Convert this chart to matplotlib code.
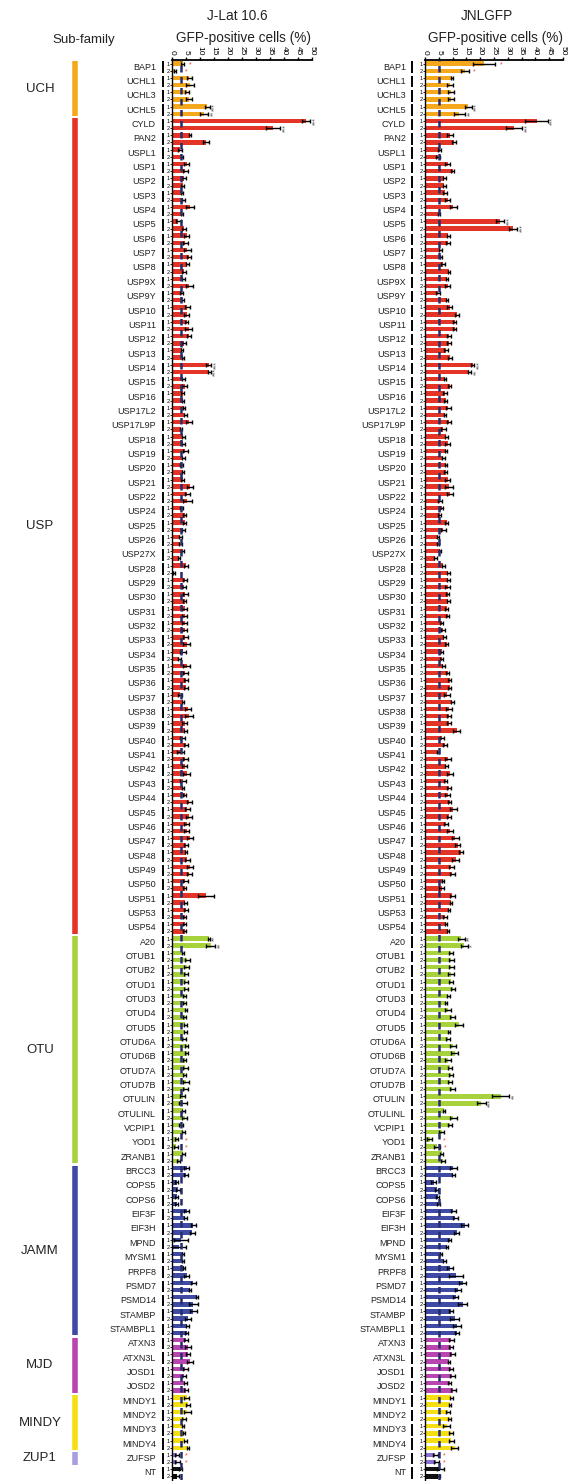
import matplotlib
matplotlib.use("Agg")
import matplotlib.pyplot as plt
from matplotlib.transforms import blended_transform_factory
import numpy as np

plt.rcParams["font.family"] = ["Liberation Sans", "DejaVu Sans"]

# ---- data -------------------------------------------------------------
subfamilies = ["UCH", "USP", "OTU", "JAMM", "MJD", "MINDY", "ZUP1", None]
genes_by_family = [
    ["BAP1", "UCHL1", "UCHL3", "UCHL5"],
    ["CYLD", "PAN2", "USPL1", "USP1", "USP2", "USP3", "USP4", "USP5", "USP6",
     "USP7", "USP8", "USP9X", "USP9Y", "USP10", "USP11", "USP12", "USP13",
     "USP14", "USP15", "USP16", "USP17L2", "USP17L9P", "USP18", "USP19",
     "USP20", "USP21", "USP22", "USP24", "USP25", "USP26", "USP27X", "USP28",
     "USP29", "USP30", "USP31", "USP32", "USP33", "USP34", "USP35", "USP36",
     "USP37", "USP38", "USP39", "USP40", "USP41", "USP42", "USP43", "USP44",
     "USP45", "USP46", "USP47", "USP48", "USP49", "USP50", "USP51", "USP53",
     "USP54"],
    ["A20", "OTUB1", "OTUB2", "OTUD1", "OTUD3", "OTUD4", "OTUD5", "OTUD6A",
     "OTUD6B", "OTUD7A", "OTUD7B", "OTULIN", "OTULINL", "VCPIP1", "YOD1",
     "ZRANB1"],
    ["BRCC3", "COPS5", "COPS6", "EIF3F", "EIF3H", "MPND", "MYSM1", "PRPF8",
     "PSMD7", "PSMD14", "STAMBP", "STAMBPL1"],
    ["ATXN3", "ATXN3L", "JOSD1", "JOSD2"],
    ["MINDY1", "MINDY2", "MINDY3", "MINDY4"],
    ["ZUFSP"],
    ["NT"],
]

# J-Lat 10.6, (sgRNA 1, sgRNA 2) per gene
jlat_mean = [
    (3.8, 1.0), (6.2, 6.4), (5.5, 6.0), (12.6, 11.4),
    (47.9, 36.2), (6.4, 12.1), (2.9, 3.6), (5.2, 4.8), (4.3, 3.8), (3.6, 4.0),
    (6.4, 3.6), (2.3, 4.3), (5.2, 4.8), (5.5, 6.0), (5.5, 4.3), (4.0, 6.2),
    (3.5, 3.8), (5.5, 5.2), (5.2, 6.0), (6.0, 4.3), (3.6, 4.0), (13.1, 13.3),
    (4.0, 4.5), (3.8, 3.8), (4.3, 4.8), (6.0, 3.1), (4.0, 4.0), (4.8, 4.0),
    (3.3, 3.8), (3.8, 6.4), (5.5, 5.5), (3.3, 4.5), (4.5, 4.0), (2.9, 2.9),
    (3.8, 2.4), (5.0, 0.8), (4.6, 4.3), (4.8, 4.5), (4.5, 4.5), (4.5, 4.5),
    (4.8, 5.2), (4.0, 2.6), (5.2, 4.8), (5.0, 5.0), (2.9, 3.8), (5.7, 6.0),
    (4.5, 4.8), (3.8, 5.0), (3.1, 4.8), (4.5, 5.2), (4.0, 4.0), (4.5, 6.2),
    (5.5, 6.0), (5.2, 5.2), (6.4, 5.0), (5.0, 5.5), (6.4, 6.2), (4.8, 4.5),
    (12.1, 4.8), (5.0, 4.5), (4.5, 4.5),
    (13.1, 13.8), (4.0, 5.5), (5.2, 5.0), (5.0, 5.0), (4.5, 4.5), (5.0, 4.5),
    (4.8, 4.8), (4.3, 5.2), (5.2, 4.5), (4.8, 4.5), (5.0, 4.8), (3.8, 4.0),
    (4.0, 4.5), (3.3, 4.0), (1.7, 1.4), (4.0, 2.4),
    (5.2, 5.0), (1.7, 2.1), (1.7, 1.7), (5.2, 4.8), (7.6, 7.3), (3.3, 2.6),
    (3.8, 4.0), (4.3, 5.2), (7.6, 6.4), (9.0, 7.6), (7.6, 5.7), (5.5, 5.2),
    (5.0, 5.7), (5.7, 6.4), (4.8, 4.3), (4.8, 5.0),
    (5.2, 5.7), (5.5, 4.3), (4.0, 4.3), (4.8, 5.7),
    (1.7, 1.9),
    (3.1, 1.7),
]
jlat_err = [
    (0.6, 0.3), (1.0, 1.5), (0.7, 1.0), (0.8, 1.5),
    (1.5, 2.5), (0.5, 1.2), (0.6, 0.5), (1.0, 1.0), (0.6, 0.5), (0.5, 0.5),
    (1.5, 0.5), (0.8, 0.8), (0.8, 0.8), (1.2, 0.8), (0.6, 0.6), (0.6, 1.3),
    (0.6, 0.6), (0.8, 0.8), (0.6, 1.2), (0.8, 0.8), (0.4, 0.4), (0.8, 0.5),
    (0.5, 0.8), (0.5, 0.4), (0.4, 0.6), (1.0, 0.4), (0.5, 0.5), (0.8, 0.5),
    (0.6, 0.4), (0.5, 1.2), (1.0, 1.5), (0.5, 0.6), (0.6, 0.6), (0.5, 0.5),
    (0.6, 0.4), (0.6, 0.3), (0.8, 0.6), (1.0, 0.4), (1.0, 1.0), (1.0, 1.0),
    (1.0, 1.2), (1.0, 0.6), (1.3, 0.8), (0.8, 0.6), (0.8, 0.4), (1.2, 1.5),
    (0.8, 0.6), (1.0, 0.8), (1.2, 1.0), (0.8, 1.3), (1.0, 0.4), (0.6, 0.8),
    (1.0, 1.0), (0.8, 0.8), (1.2, 0.8), (0.4, 1.0), (1.2, 1.0), (0.8, 0.6),
    (2.8, 0.6), (0.6, 0.4), (0.6, 0.5),
    (0.3, 1.5), (0.4, 0.8), (0.8, 0.8), (0.8, 0.8), (0.6, 0.6), (0.4, 0.6),
    (0.5, 0.6), (0.6, 0.6), (0.6, 0.6), (0.8, 0.5), (1.0, 0.8), (0.8, 1.5),
    (0.5, 0.8), (0.8, 0.6), (0.6, 0.8), (0.5, 0.5),
    (1.0, 0.6), (0.6, 0.6), (0.5, 0.5), (0.8, 0.6), (0.8, 0.8), (2.5, 2.5),
    (0.4, 0.4), (0.4, 1.0), (0.8, 0.3), (0.4, 1.6), (1.2, 1.0), (0.5, 0.4),
    (0.6, 1.2), (0.8, 1.2), (1.0, 0.8), (0.5, 0.8),
    (1.0, 0.8), (1.3, 0.6), (0.4, 0.5), (0.6, 0.4),
    (0.8, 0.8),
    (0.6, 0.8),
]

# JNLGFP
jnl_mean = [
    (21.5, 14.5), (9.7, 9.1), (9.4, 9.4), (15.7, 12.5),
    (40.4, 32.3), (9.1, 10.6), (5.3, 4.7), (8.2, 10.1), (7.0, 7.0), (7.2, 8.2),
    (10.3, 5.0), (27.2, 32.0), (8.5, 8.3), (5.5, 5.8), (6.5, 8.8), (7.9, 8.2),
    (4.7, 7.9), (8.9, 11.5), (10.7, 10.8), (8.7, 8.7), (7.7, 9.1), (17.3, 16.1),
    (7.3, 8.9), (7.2, 7.5), (8.5, 7.2), (8.7, 6.7), (7.7, 8.2), (7.5, 6.7),
    (7.7, 7.5), (8.2, 8.7), (9.1, 5.5), (6.0, 5.3), (7.9, 6.7), (4.8, 4.6),
    (5.5, 3.8), (6.7, 8.4), (8.4, 8.2), (8.2, 8.4), (7.9, 8.2), (6.0, 6.5),
    (7.0, 7.9), (6.0, 6.0), (6.7, 8.2), (8.9, 8.9), (7.9, 9.9), (8.7, 8.7),
    (8.7, 11.5), (6.2, 7.2), (4.7, 8.4), (7.7, 9.1), (7.5, 8.7), (8.2, 8.9),
    (10.3, 8.7), (7.7, 9.1), (11.0, 11.8), (13.0, 11.1), (9.6, 9.9), (6.5, 6.0),
    (9.9, 9.4), (8.7, 7.2), (7.7, 8.2),
    (13.2, 14.2), (9.4, 9.6), (9.6, 9.4), (9.4, 10.1), (8.4, 7.7), (8.4, 9.9),
    (12.3, 8.7), (8.4, 10.1), (10.8, 8.4), (9.1, 9.4), (9.1, 9.9), (27.4, 20.4),
    (7.0, 10.3), (9.1, 6.0), (1.7, 4.3), (6.0, 6.5),
    (10.3, 10.3), (3.1, 4.3), (4.6, 5.0), (10.3, 11.0), (14.4, 11.5), (8.9, 7.9),
    (5.8, 7.0), (8.9, 11.1), (13.7, 12.0), (11.1, 13.7), (9.4, 10.8), (11.5, 11.5),
    (9.6, 9.4), (9.9, 8.7), (9.4, 9.9), (8.9, 10.3),
    (9.6, 9.1), (8.4, 8.9), (7.9, 9.4), (9.6, 10.8),
    (3.8, 4.1),
    (5.5, 4.8),
]
jnl_err = [
    (4.0, 1.5), (0.3, 1.0), (1.0, 1.0), (1.2, 2.0),
    (4.0, 3.0), (1.0, 0.8), (0.5, 0.8), (1.0, 0.5), (0.6, 0.5), (0.8, 1.0),
    (1.3, 0.3), (1.5, 1.5), (0.5, 0.8), (0.5, 0.5), (0.8, 0.4), (0.4, 0.8),
    (0.6, 0.4), (0.8, 0.8), (0.6, 0.5), (0.8, 0.8), (0.8, 0.8), (0.5, 0.6),
    (0.3, 0.4), (0.8, 0.6), (0.8, 0.3), (0.8, 0.8), (0.6, 0.8), (0.4, 0.6),
    (0.4, 0.6), (0.8, 1.3), (1.1, 0.8), (0.6, 0.6), (0.6, 0.8), (0.3, 0.4),
    (0.4, 0.6), (0.6, 0.6), (0.6, 1.0), (0.6, 0.6), (0.6, 0.6), (0.6, 0.6),
    (0.5, 0.5), (0.6, 0.6), (0.6, 0.6), (0.6, 0.6), (1.0, 0.6), (1.1, 0.8),
    (0.6, 1.2), (0.6, 0.6), (0.5, 1.2), (0.6, 1.2), (0.6, 0.8), (1.0, 0.6),
    (1.3, 0.8), (0.8, 1.0), (1.3, 1.0), (0.6, 1.2), (0.8, 1.0), (0.4, 0.8),
    (1.0, 0.4), (0.4, 0.6), (0.4, 0.4),
    (1.2, 1.2), (0.8, 0.8), (0.8, 1.0), (0.8, 0.6), (0.6, 0.3), (1.2, 0.8),
    (1.3, 0.3), (0.8, 1.0), (1.2, 1.0), (0.6, 0.6), (0.6, 1.0), (3.0, 1.6),
    (0.4, 1.2), (0.8, 0.8), (1.0, 1.0), (0.6, 0.8),
    (1.2, 0.4), (0.8, 0.5), (0.5, 0.6), (1.0, 0.8), (1.3, 1.0), (0.6, 0.4),
    (0.4, 0.6), (1.1, 2.5), (1.3, 1.0), (1.0, 1.6), (0.8, 1.6), (1.5, 0.8),
    (0.8, 0.6), (0.8, 0.5), (0.8, 0.8), (0.6, 1.0),
    (0.6, 0.4), (0.8, 0.4), (1.2, 0.8), (1.0, 1.3),
    (0.8, 0.8),
    (1.3, 0.5),
]

# significance marks: (gene, sgRNA index) -> label
jlat_stars = {("BAP1", 0): "*", ("BAP1", 1): "*", ("UCHL5", 0): "***",
              ("UCHL5", 1): "**", ("CYLD", 0): "***", ("CYLD", 1): "***",
              ("USP14", 0): "***", ("USP14", 1): "***", ("A20", 0): "**",
              ("A20", 1): "**", ("YOD1", 0): "*", ("YOD1", 1): "*",
              ("ZUFSP", 0): "*", ("ZUFSP", 1): "*"}
jnl_stars = {("BAP1", 0): "*", ("BAP1", 1): "*", ("UCHL5", 0): "***",
             ("UCHL5", 1): "**", ("CYLD", 0): "***", ("CYLD", 1): "***",
             ("USP5", 0): "***", ("USP5", 1): "***", ("USP14", 0): "***",
             ("USP14", 1): "**", ("A20", 0): "**", ("A20", 1): "*",
             ("OTULIN", 0): "**", ("OTULIN", 1): "***", ("YOD1", 0): "*",
             ("YOD1", 1): "*", ("ZUFSP", 0): "*", ("ZUFSP", 1): "*"}
down_genes = ["BAP1", "YOD1", "ZUFSP"]  # red marks

jlat_ref = 3.2
jnl_ref = 5.0
xticks = list(range(0, 55, 5))

# ---- styles -----------------------------------------------------------
family_colors = {"UCH": "#f6a81c", "USP": "#e33427", "OTU": "#a8d23c",
                 "JAMM": "#3e4aa3", "MJD": "#b845b0", "MINDY": "#f5df12",
                 "ZUP1": "#a89ee0", None: "#111111"}
bar_colors_special = {"ZUFSP": "#8b70d2"}

genes = [g for grp in genes_by_family for g in grp]
gene_family = [fam for fam, grp in zip(subfamilies, genes_by_family) for _ in grp]
n = len(genes)

W, H = 568, 1481
fig = plt.figure(figsize=(W / 100, H / 100), dpi=100)
top_px, bot_px = 60, 1480
ax_bottom = 1 - bot_px / H
ax_height = (bot_px - top_px) / H


def draw_panel(left_px, right_px, means, errs, stars, ref, title, title_px,
               sub_px, lab_px, brk_px):
    ax = fig.add_axes([left_px / W, ax_bottom, (right_px - left_px) / W, ax_height])
    y = []
    vals = []
    ers = []
    cols = []
    for i, g in enumerate(genes):
        c = bar_colors_special.get(g, family_colors[gene_family[i]])
        for r in range(2):
            y.append(2 * i + r)
            vals.append(means[i][r])
            ers.append(errs[i][r])
            cols.append(c)
    ax.barh(y, vals, height=0.62, color=cols, zorder=2)
    ax.errorbar(vals, y, xerr=ers, fmt="none", ecolor="black", elinewidth=1.0,
                capsize=1.3, capthick=1.0, zorder=3)
    ax.axvline(ref, color="#252d6a", lw=1.8, dashes=(2.6, 1.8), zorder=4)

    ax.set_xlim(0, 50)
    ax.set_ylim(2 * n - 0.5, -0.5)
    ax.xaxis.tick_top()
    ax.set_xticks(xticks)
    ax.set_xticklabels([str(t) for t in xticks], rotation=-90, fontsize=6)
    ax.tick_params(axis="x", length=2.5, width=1, pad=1)
    ax.set_yticks(y)
    ax.set_yticklabels(["1", "2"] * n, fontsize=4)
    ax.tick_params(axis="y", length=1.5, width=0.6, pad=0.5)
    for s in ["right", "bottom"]:
        ax.spines[s].set_visible(False)
    ax.spines["top"].set_linewidth(1.3)
    ax.spines["left"].set_linewidth(1.0)

    tr = blended_transform_factory(ax.transAxes, ax.transData)
    wpx = right_px - left_px
    for i, g in enumerate(genes):
        ax.text((lab_px - left_px) / wpx, 2 * i + 0.5, g, transform=tr,
                ha="right", va="center", fontsize=6.5, color="#222222")
        ax.plot([(brk_px - left_px) / wpx] * 2, [2 * i - 0.3, 2 * i + 1.3],
                transform=tr, color="black", lw=1.4, clip_on=False,
                solid_capstyle="butt")

    for (g, r), s in stars.items():
        i = genes.index(g)
        xv = means[i][r] + errs[i][r] + 2.0
        if g in down_genes:
            xv = max(means[i][r] + errs[i][r], ref) + 2.0
            ax.text(xv, 2 * i + r + 0.15, s, color="#e8473d", fontsize=5,
                    ha="center", va="center")
        else:
            ax.text(xv, 2 * i + r, s, color="#555555", fontsize=5,
                    rotation=90, ha="center", va="center")

    fig.text(title_px / W, 1 - 16 / H, title, ha="center", va="center",
             fontsize=9.8, color="#222222")
    fig.text(sub_px / W, 1 - 38 / H, "GFP-positive cells (%)", ha="center",
             va="center", fontsize=9.8, color="#222222")
    return ax


draw_panel(172, 312, jlat_mean, jlat_err, jlat_stars, jlat_ref,
           "J-Lat 10.6", 237, 243, 156, 163)
draw_panel(425, 563, jnl_mean, jnl_err, jnl_stars, jnl_ref,
           "JNLGFP", 487, 496, 406, 412)

# sub-family column
axf = fig.add_axes([0, ax_bottom, 110 / W, ax_height])
axf.set_xlim(0, 110)
axf.set_ylim(2 * n - 0.5, -0.5)
axf.axis("off")
start = 0
for fam, grp in zip(subfamilies, genes_by_family):
    stop = start + 2 * len(grp) - 1
    if fam is not None:
        axf.plot([75, 75], [start - 0.35, stop + 0.35], color=family_colors[fam],
                 lw=4, solid_capstyle="butt")
        axf.text(40, (start + stop) / 2, fam, ha="center", va="center",
                 fontsize=9.5, color="#222222")
    start = stop + 1
fig.text(84 / W, 1 - 40 / H, "Sub-family", ha="center", va="center",
         fontsize=9.5, color="#222222")

fig.savefig("out.png", dpi=100)
